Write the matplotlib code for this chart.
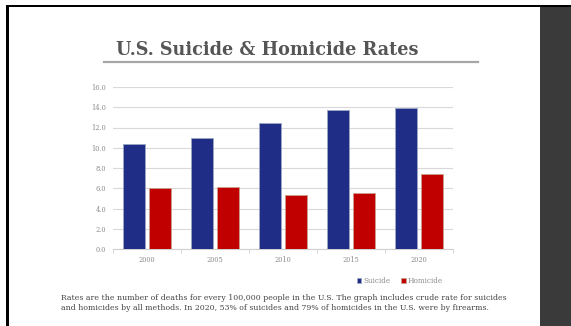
import matplotlib.pyplot as plt
import matplotlib.patches as mpatches
import numpy as np

# данные
years = ['2000', '2005', '2010', '2015', '2020']
suicide = [10.4, 11.0, 12.4, 13.7, 13.9]
homicide = [6.0, 6.1, 5.3, 5.5, 7.4]

W, H = 571, 326
fig = plt.figure(figsize=(W / 100, H / 100), dpi=100)
fig.patch.set_facecolor('white')

# рамка слайда
fig.add_artist(mpatches.Rectangle((6 / W, 1 - 7 / H), 1, 2 / H, transform=fig.transFigure,
                                  color='black', lw=0))
fig.add_artist(mpatches.Rectangle((6 / W, 0), 3 / W, 1 - 5 / H, transform=fig.transFigure,
                                  color='black', lw=0))
fig.add_artist(mpatches.Rectangle((540 / W, 0), 1, 1 - 7 / H, transform=fig.transFigure,
                                  color='#3a3a3a', lw=0))

# заголовок
fig.text(116 / W, 1 - 50 / H, 'U.S. Suicide & Homicide Rates', family='DejaVu Serif',
         fontweight='bold', fontsize=12.7, color='#555555', va='center', ha='left')
fig.add_artist(plt.Line2D([104 / W, 478 / W], [1 - 62 / H, 1 - 62 / H],
                          transform=fig.transFigure, color='#a6a6a6', lw=1.6))

ax = fig.add_axes([113 / W, (H - 249) / H, 340 / W, (249 - 87) / H])
x = np.arange(len(years))
bw = 0.32
ax.bar(x - 0.195, suicide, bw, color='#1f2d86', edgecolor='#9aa7c4', lw=0.6,
       label='Suicide', zorder=3)
ax.bar(x + 0.195, homicide, bw, color='#c00000', edgecolor='#c9a08a', lw=0.6,
       label='Homicide', zorder=3)

ax.set_xlim(-0.5, 4.5)
ax.set_ylim(0, 16)
ax.set_yticks(np.arange(0, 16.1, 2))
ax.set_yticklabels(['%.1f' % v for v in np.arange(0, 16.1, 2)])
ax.set_xticks(x)
ax.set_xticklabels(years)
ax.set_xticks(np.arange(-0.5, 4.6, 1), minor=True)
ax.tick_params(axis='both', which='major', length=0, labelsize=4.8,
               labelcolor='#8c8c8c', pad=5)
ax.tick_params(axis='x', which='minor', length=3, color='#d0d0d0', width=0.6)
for lbl in ax.get_xticklabels() + ax.get_yticklabels():
    lbl.set_family('DejaVu Serif')
ax.grid(axis='y', color='#d9d9d9', lw=0.8, zorder=0)
for s in ['top', 'right', 'left']:
    ax.spines[s].set_visible(False)
ax.spines['bottom'].set_color('#d0d0d0')
ax.spines['bottom'].set_linewidth(0.8)

leg = fig.legend(loc='center', bbox_to_anchor=(400 / W, 1 - 281 / H), ncol=2, frameon=False,
                 handlelength=0.6, handleheight=0.6, columnspacing=1.5,
                 handletextpad=0.3, prop={'family': 'DejaVu Serif', 'size': 5.2})
for t in leg.get_texts():
    t.set_color('#8c8c8c')

fig.text(61 / W, 1 - 303 / H,
         'Rates are the number of deaths for every 100,000 people in the U.S. The graph includes '
         'crude rate for suicides\nand homicides by all methods. In 2020, 53% of suicides and 79% '
         'of homicides in the U.S. were by firearms.',
         family='DejaVu Serif', fontsize=5.6, color='#444444', va='center', ha='left',
         linespacing=1.3)

fig.savefig('out.png', dpi=100)
